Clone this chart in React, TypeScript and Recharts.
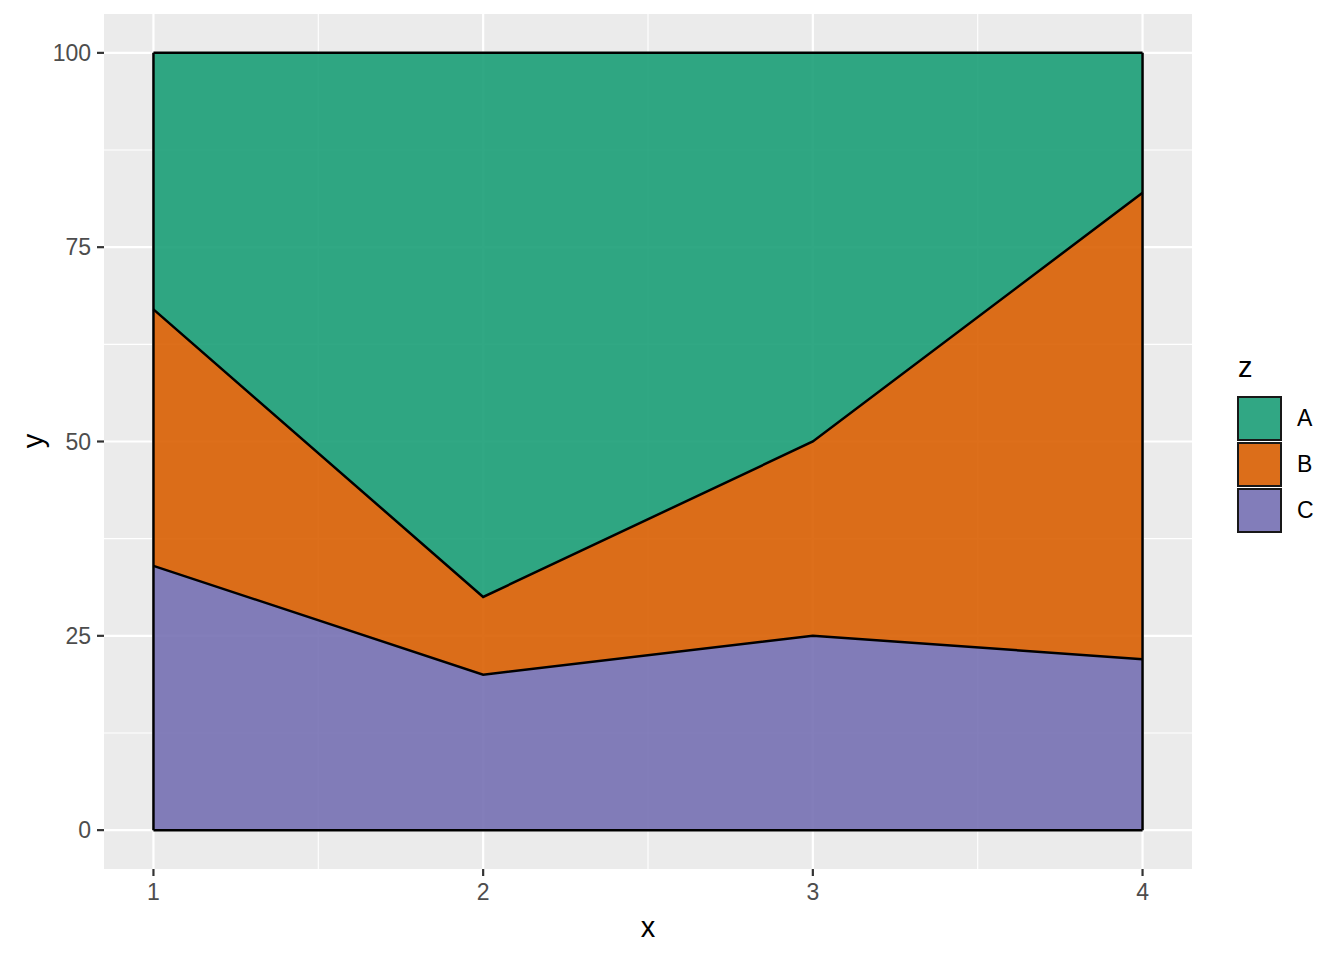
import {
  AreaChart,
  Area,
  XAxis,
  YAxis,
  CartesianGrid,
  ReferenceLine,
} from "recharts";

const xValues = [1, 2, 3, 4];
const seriesA = [33, 70, 50, 18];
const seriesB = [33, 10, 25, 60];
const seriesC = [34, 20, 25, 22];
const xTicks = [1, 2, 3, 4];
const yTicks = [0, 25, 50, 75, 100];
const xMinor = [1.5, 2.5, 3.5];
const yMinor = [12.5, 37.5, 62.5, 87.5];

const series = [
  { key: "A", color: "#1B9E77" },
  { key: "B", color: "#D95F02" },
  { key: "C", color: "#7570B3" },
];

const data = xValues.map((x, i) => ({
  x,
  A: seriesA[i],
  B: seriesB[i],
  C: seriesC[i],
}));

const font = "'Liberation Sans', Arial, Helvetica, sans-serif";
const tickStyle = { fill: "#4D4D4D", fontSize: 23, fontFamily: font };
const tickLineStyle = { stroke: "#333333", strokeWidth: 2.2 };

const LegendBox = () => (
  <div
    style={{
      position: "absolute",
      left: 1237,
      top: 350,
      fontFamily: font,
      color: "#000",
    }}
  >
    <div style={{ fontSize: 29, lineHeight: "34px", marginLeft: 1, height: 45 }}>
      z
    </div>
    {series.map((s) => (
      <div
        key={s.key}
        style={{ display: "flex", alignItems: "center", height: 46 }}
      >
        <div
          style={{
            width: 41,
            height: 41,
            background: s.color,
            opacity: 0.9,
            border: "2px solid #000",
          }}
        />
        <span style={{ marginLeft: 15, fontSize: 23 }}>{s.key}</span>
      </div>
    ))}
  </div>
);

export default function App() {
  return (
    <div
      style={{
        position: "absolute",
        left: 0,
        top: 0,
        width: 1344,
        height: 960,
        background: "#fff",
        fontFamily: font,
      }}
    >
      <AreaChart
        width={1344}
        height={960}
        data={data}
        margin={{ top: 14, right: 152, left: 0, bottom: 0 }}
      >
        <CartesianGrid
          fill="#EBEBEB"
          stroke="#FFFFFF"
          strokeWidth={1.1}
          horizontalValues={yMinor}
          verticalValues={xMinor}
        />
        <CartesianGrid
          stroke="#FFFFFF"
          strokeWidth={2.2}
          horizontalValues={yTicks}
          verticalValues={xTicks}
        />
        <XAxis
          dataKey="x"
          type="number"
          domain={[0.85, 4.15]}
          ticks={xTicks}
          allowDataOverflow
          height={91}
          axisLine={false}
          tickLine={tickLineStyle}
          tickSize={7}
          tick={tickStyle}
          tickMargin={8}
        />
        <YAxis
          type="number"
          domain={[-5, 105]}
          ticks={yTicks}
          allowDataOverflow
          width={104}
          axisLine={false}
          tickLine={tickLineStyle}
          tickSize={7}
          tick={tickStyle}
          tickMargin={6}
        />
        {[...series].reverse().map((s) => (
          <Area
            key={s.key}
            dataKey={s.key}
            stackId="fill"
            type="linear"
            fill={s.color}
            fillOpacity={0.9}
            stroke="none"
            isAnimationActive={false}
          />
        ))}
        {[...series].reverse().map((s) => (
          <Area
            key={"o" + s.key}
            dataKey={s.key}
            stackId="outline"
            type="linear"
            fill="none"
            stroke="#000000"
            strokeWidth={2.5}
            isAnimationActive={false}
          />
        ))}
        <ReferenceLine
          segment={[
            { x: 1, y: 0 },
            { x: 1, y: 100 },
          ]}
          stroke="#000"
          strokeWidth={2.5}
        />
        <ReferenceLine
          segment={[
            { x: 4, y: 0 },
            { x: 4, y: 100 },
          ]}
          stroke="#000"
          strokeWidth={2.5}
        />
        <ReferenceLine
          segment={[
            { x: 1, y: 0 },
            { x: 4, y: 0 },
          ]}
          stroke="#000"
          strokeWidth={2.5}
        />
      </AreaChart>
      <LegendBox />
      <div
        style={{
          position: "absolute",
          left: 628,
          top: 909,
          width: 40,
          textAlign: "center",
          fontSize: 29,
          lineHeight: "36px",
          color: "#000",
        }}
      >
        x
      </div>
      <div
        style={{
          position: "absolute",
          left: 15,
          top: 423,
          width: 36,
          height: 36,
          lineHeight: "36px",
          textAlign: "center",
          fontSize: 29,
          color: "#000",
          transform: "rotate(-90deg)",
        }}
      >
        y
      </div>
    </div>
  );
}
